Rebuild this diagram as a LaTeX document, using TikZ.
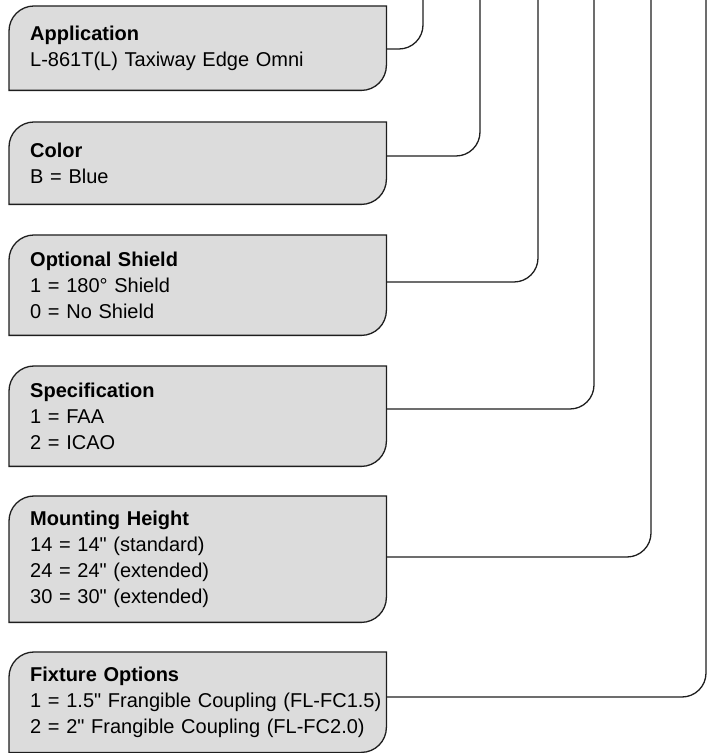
\documentclass[tikz,border=0pt]{standalone}
\usepackage{fontspec}
\setmainfont{Liberation Sans}[Ligatures=TeXOff]
\usetikzlibrary{backgrounds,calc}

\definecolor{tagfill}{RGB}{220,220,220}
\definecolor{tagline}{RGB}{30,30,30}
\tikzset{
  tag/.style={anchor=north west, text width=358pt,
    inner xsep=0pt, inner ysep=0pt, align=left,
    font=\fontsize{20}{26}\selectfont},
  tagshape/.style={fill=tagfill, draw=tagline, line width=1.3pt},
  lead/.style={draw=tagline, line width=1.3pt, rounded corners=24pt},
}
% box with round top-left and bottom-right corners
\newcommand{\tagbox}[1]{%
  \path[tagshape] ([xshift=-21pt]#1.south west)
    -- ([xshift=-21pt,yshift=-25pt]#1.north west)
    arc[start angle=180, end angle=90, radius=25pt] -- ([xshift=-2pt]#1.north east)
    -- ([xshift=-2pt,yshift=25pt]#1.south east)
    arc[start angle=0, end angle=-90, radius=25pt] -- cycle;}

\begin{document}
\begin{tikzpicture}[x=1pt,y=1pt]
\useasboundingbox (0,0) rectangle (707,753);
% option boxes
\node[tag, minimum height=84pt] (app) at (30,747)
  {\textbf{Application}\\L-861T(L) Taxiway Edge Omni};
\node[tag, minimum height=82pt] (color) at (30,631)
  {\textbf{Color}\\B = Blue};
\node[tag, minimum height=100pt] (shield) at (30,518)
  {\textbf{Optional Shield}\\1 = 180° Shield\\0 = No Shield};
\node[tag, minimum height=100pt] (spec) at (30,387)
  {\textbf{Specification}\\1 = FAA\\2 = ICAO};
\node[tag, minimum height=126pt] (height) at (30,257)
  {\textbf{Mounting Height}\\14 = 14" (standard)\\24 = 24" (extended)\\30 = 30" (extended)};
\node[tag, minimum height=100pt] (fixture) at (30,101)
  {\textbf{Fixture Options}\\1 = 1.5" Frangible Coupling (FL-FC1.5)\\2 = 2" Frangible Coupling (FL-FC2.0)};
\begin{scope}[on background layer]
  \foreach \b in {app,color,shield,spec,height,fixture} {\tagbox{\b}}
\end{scope}
% top ends of the leads
\coordinate (t1) at (423,753);
\coordinate (t2) at (480,753);
\coordinate (t3) at (538,753);
\coordinate (t4) at (594,753);
\coordinate (t5) at (651,753);
\coordinate (t6) at (706,753);
% leads
\draw[lead] ([xshift=-2pt]app.east |- 0,704) -| (t1);
\draw[lead] ([xshift=-2pt]color.east |- 0,597) -| (t2);
\draw[lead] ([xshift=-2pt]shield.east |- 0,471) -| (t3);
\draw[lead] ([xshift=-2pt]spec.east |- 0,344) -| (t4);
\draw[lead] ([xshift=-2pt]height.east |- 0,196) -| (t5);
\draw[lead] ([xshift=-2pt]fixture.east |- 0,56) -| (t6);
\end{tikzpicture}
\end{document}
